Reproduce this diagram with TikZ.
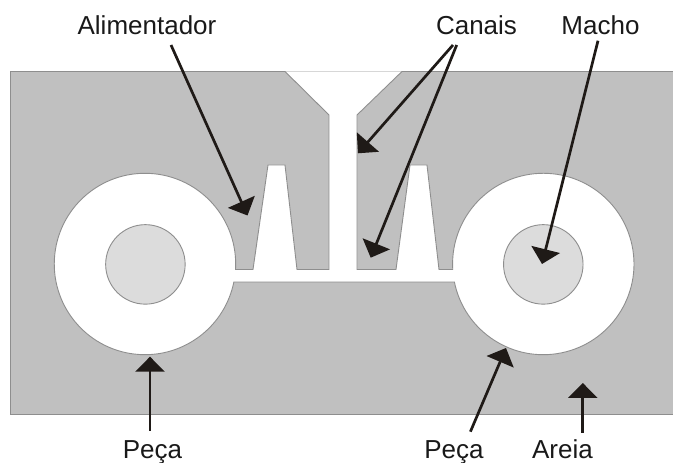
\documentclass[tikz,border=0pt]{standalone}
\usepackage{fontspec}
\setmainfont{Liberation Sans}
\usetikzlibrary{arrows.meta}
\definecolor{areia}{HTML}{C0C0C0}
\definecolor{borda}{HTML}{8E8E8E}
\definecolor{nucleo}{HTML}{DCDCDC}
\definecolor{seta}{HTML}{1F1A17}
\tikzset{
  rotulo/.style={anchor=base,inner sep=0pt,text=black!90,font=\fontsize{26}{30}\selectfont},
  contorno/.style={draw=borda,line width=0.9pt},
  seta/.style={draw=seta,line width=2.7pt,-{Triangle[length=15pt,width=29pt,color=seta]}}
}
\begin{document}
\begin{tikzpicture}[x=1pt,y=1pt]
\useasboundingbox (0,0) rectangle (673,463);
% sand block
\path[fill=areia,contorno] (10,48.3) rectangle (674,392);
% cavity
\path[fill=white,contorno,line join=miter]
  (285,391.5) -- (329,348) -- (329,193.5) -- (297,193.5) -- (285,298) -- (268,298) -- (253,193.5) -- (235.5,193.5)
  arc[start angle=-3.48,end angle=348.55,radius=90.7]
  -- (454.4,181)
  arc[start angle=191.45,end angle=543.48,radius=90.7]
  -- (439,193.5) -- (427,298) -- (410,298) -- (396,193.5) -- (357,193.5) -- (357,348) -- (402,391.5);
% cores
\node[circle,fill=nucleo,contorno,minimum size=79.5pt,inner sep=0pt] (coreL) at (145.4,198.6) {};
\node[circle,fill=nucleo,contorno,minimum size=79.5pt,inner sep=0pt] (coreR) at (543.3,198.6) {};
% labels
\node[rotulo] (lAli) at (147,428.3) {Alimentador};
\node[rotulo] (lCan) at (476.5,428.3) {Canais};
\node[rotulo] (lMac) at (600.5,428.3) {Macho};
\node[rotulo] (lPe1) at (152.5,4) {Peça};
\node[rotulo] (lPe2) at (454,4) {Peça};
\node[rotulo] (lAre) at (562.5,4) {Areia};
% arrow ends
\coordinate (aliS) at (171,418);     \coordinate (aliT) at (247.5,247.5);
\coordinate (can1S) at (453,418);    \coordinate (can1T) at (358,309.7);
\coordinate (can2S) at (456.7,418);  \coordinate (can2T) at (370.7,205.3);
\coordinate (macS) at (598,422.3);   \coordinate (macT) at (542,199);
\coordinate (pe1S) at (150,32.3);    \coordinate (pe1T) at (150,106.3);
\coordinate (pe2S) at (470.4,31.3);  \coordinate (pe2T) at (506,115);
\coordinate (areS) at (582.8,30);    \coordinate (areT) at (582.8,80);
\draw[seta] (aliS) -- (aliT);
\draw[seta] (can1S) -- (can1T);
\draw[seta] (can2S) -- (can2T);
\draw[seta] (macS) -- (macT);
\draw[seta] (pe1S) -- (pe1T);
\draw[seta] (pe2S) -- (pe2T);
\draw[seta] (areS) -- (areT);
\end{tikzpicture}
\end{document}
